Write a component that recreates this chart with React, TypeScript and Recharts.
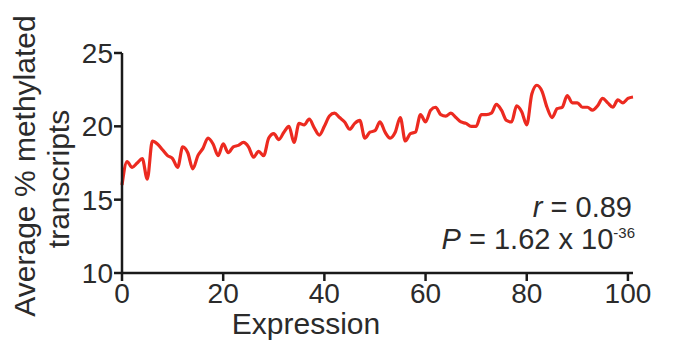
import { LineChart, Line, XAxis, YAxis } from "recharts";

// average % methylated transcripts (expression 0..101)
const methylated = [
  16.0, 17.6, 17.2, 17.5, 17.8, 16.4, 19.0, 18.8, 18.4, 18.0,
  17.8, 17.2, 18.6, 18.2, 17.1, 18.0, 18.5, 19.2, 18.8, 18.0,
  18.8, 18.2, 18.6, 18.7, 18.9, 18.6, 17.9, 18.3, 18.0, 19.2,
  19.5, 19.1, 19.6, 20.0, 18.9, 20.2, 20.1, 20.5, 19.9, 19.4,
  20.0, 20.7, 20.9, 20.6, 20.3, 19.8, 20.2, 20.4, 19.2, 19.6,
  19.7, 20.3, 19.6, 19.2, 19.6, 20.6, 19.0, 19.5, 19.6, 20.8,
  20.3, 21.1, 21.3, 20.8, 20.7, 20.9, 20.6, 20.3, 20.2, 20.0,
  20.0, 20.8, 20.8, 20.9, 21.5, 21.1, 20.4, 20.3, 21.4, 21.0,
  20.1, 22.2, 22.8, 22.4, 21.3, 20.6, 21.2, 21.3, 22.1, 21.6,
  21.6, 21.3, 21.3, 21.1, 21.4, 21.9, 21.6, 21.3, 21.8, 21.6,
  21.9, 22.0,
];
const expression = methylated.map((_, i) => i);
const xTicks = [0, 20, 40, 60, 80, 100];
const yTicks = [10, 15, 20, 25];

const data = expression.map((x, i) => ({ x, y: methylated[i] }));

const FONT = '"Liberation Sans", Arial, Helvetica, sans-serif';
const INK = "#2b2b2b";
const tickStyle = { fontSize: 28, fill: INK, fontFamily: FONT };

function Labels() {
  return (
    <g fontFamily={FONT} fontSize={30} fill={INK}>
      <text x={27} y={158} textAnchor="middle" transform="rotate(-90, 27, 158)">
        Average % methylated
      </text>
      <text x={61} y={171} textAnchor="middle" transform="rotate(-90, 61, 171)">
        transcripts
      </text>
      <text x={298} y={326} textAnchor="middle" fontSize={30}>
        Expression
      </text>
      <text x={624} y={209} textAnchor="end" fontSize={29}>
        <tspan fontStyle="italic">r</tspan> = 0.89
      </text>
      <text x={627} y={241} textAnchor="end" fontSize={29}>
        <tspan fontStyle="italic">P</tspan> = 1.62 x 10
        <tspan dy={-11} fontSize={15}>-36</tspan>
      </text>
    </g>
  );
}

export default function App() {
  return (
    <div style={{ background: "#fff", width: 661, height: 345 }}>
      <LineChart
        width={661}
        height={345}
        data={data}
        margin={{ top: 45, right: 36, left: 54, bottom: 50 }}
      >
        <XAxis
          dataKey="x"
          type="number"
          domain={[0, 101]}
          ticks={xTicks}
          axisLine={{ stroke: "#1a1a1a", strokeWidth: 2.5 }}
          tickLine={{ stroke: "#1a1a1a", strokeWidth: 2.5 }}
          tickSize={8}
          tickMargin={2}
          tick={tickStyle}
          height={30}
          interval={0}
        />
        <YAxis
          type="number"
          domain={[10, 25]}
          ticks={yTicks}
          axisLine={{ stroke: "#1a1a1a", strokeWidth: 2.5 }}
          tickLine={{ stroke: "#1a1a1a", strokeWidth: 2.5 }}
          tickSize={8}
          tickMargin={1}
          tick={tickStyle}
          width={60}
          interval={0}
          label={{ content: () => <Labels /> }}
        />
        <Line
          dataKey="y"
          type="monotone"
          stroke="#ec2a20"
          strokeWidth={3.2}
          dot={false}
          isAnimationActive={false}
        />
      </LineChart>
    </div>
  );
}
